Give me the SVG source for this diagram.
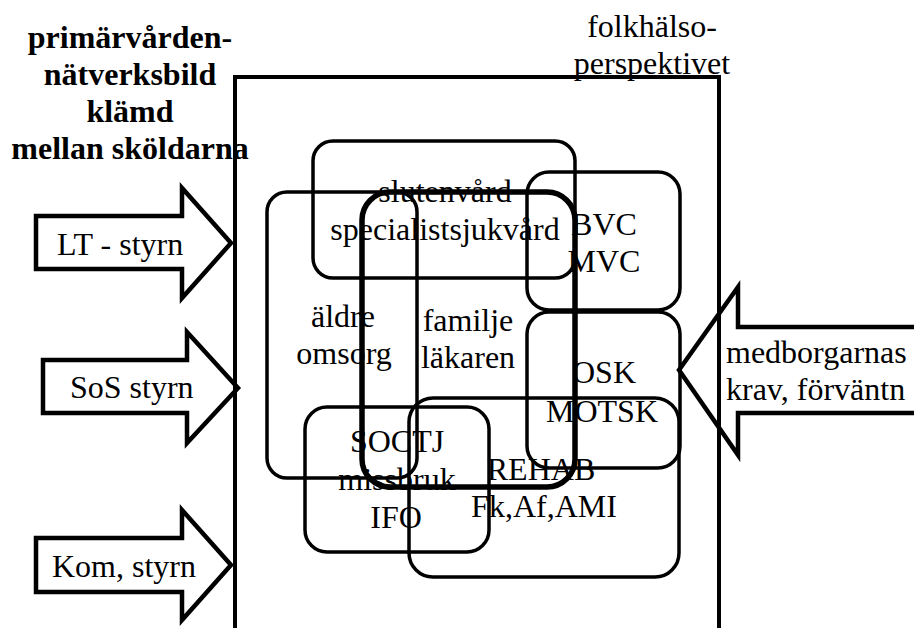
<svg xmlns="http://www.w3.org/2000/svg" width="914" height="628" viewBox="0 0 914 628">
  <style>
    text { font-family: "Liberation Serif", "Times New Roman", serif; font-size: 32px; fill: #000; }
    .title { font-weight: bold; text-anchor: middle; }
    .mid { text-anchor: middle; }
    .box { fill: none; stroke: #000; stroke-width: 3.5; }
    .thick { fill: none; stroke: #000; stroke-width: 5.5; }
    .frame { fill: none; stroke: #000; stroke-width: 4; }
    .arrow { fill: none; stroke: #000; stroke-width: 4.5; stroke-linejoin: miter; }
  </style>
  <rect width="914" height="628" fill="#fff"/>

  <!-- heading -->
  <g id="heading">
    <text class="title" x="130" y="48">primärvården-</text>
    <text class="title" x="130" y="85">nätverksbild</text>
    <text class="title" x="130" y="122">klämd</text>
    <text class="title" x="130" y="159">mellan sköldarna</text>
  </g>

  <g id="folkhalso">
    <text class="mid" x="652" y="37">folkhälso-</text>
    <text class="mid" x="652" y="74">perspektivet</text>
  </g>

  <!-- labels sit underneath the outlines -->
  <g id="labels">
    <text class="mid" x="445" y="202">slutenvård</text>
    <text class="mid" x="445" y="240">specialistsjukvård</text>
    <text class="mid" x="604" y="235">BVC</text>
    <text class="mid" x="604" y="272">MVC</text>
    <text class="mid" x="343" y="327">äldre</text>
    <text class="mid" x="344" y="364">omsorg</text>
    <text class="mid" x="468" y="331">familje</text>
    <text class="mid" x="468" y="368">läkaren</text>
    <text class="mid" x="604" y="383">OSK</text>
    <text class="mid" x="602" y="422">MOTSK</text>
    <text class="mid" x="397" y="452">SOCTJ</text>
    <text class="mid" x="397" y="490">missbruk</text>
    <text class="mid" x="396" y="528">IFO</text>
    <text class="mid" x="541" y="480">REHAB</text>
    <text class="mid" x="544" y="517">Fk,Af,AMI</text>
  </g>

  <!-- outer frame, open at the bottom -->
  <g id="frame">
    <polyline class="frame" points="235,628 235,77 719,77 719,628"/>
  </g>

  <!-- overlapping areas -->
  <g id="slutenvard"><rect class="box" x="313" y="141" width="262" height="137" rx="20"/></g>
  <g id="bvc"><rect class="box" x="527" y="172" width="153" height="138" rx="22"/></g>
  <g id="aldre"><rect class="box" x="267" y="192" width="150" height="286" rx="20"/></g>
  <g id="familjelakaren"><rect class="thick" x="362" y="192" width="213" height="295" rx="28"/></g>
  <g id="osk"><rect class="box" x="527" y="312" width="153" height="156" rx="22"/></g>
  <g id="rehab"><rect class="box" x="409" y="398" width="270" height="179" rx="24"/></g>
  <g id="soctj"><rect class="box" x="305" y="407" width="184" height="145" rx="22"/></g>

  <!-- block arrows -->
  <g id="lt-styrn">
    <polygon class="arrow" points="36,216 182,216 182,188 231,243 182,298 182,269 36,269"/>
    <text x="57" y="255">LT - styrn</text>
  </g>
  <g id="sos-styrn">
    <polygon class="arrow" points="43,360 187,360 187,332 238,388 187,443 187,413 43,413"/>
    <text x="70" y="398">SoS styrn</text>
  </g>
  <g id="kom-styrn">
    <polygon class="arrow" points="36,538 182,538 182,510 231,565 182,620 182,592 36,592"/>
    <text x="52" y="577">Kom, styrn</text>
  </g>
  <g id="medborgarnas">
    <polyline class="arrow" stroke-width="4" points="920,327 738,327 738,287 679,370 738,455 738,413 920,413"/>
    <text x="726" y="363">medborgarnas</text>
    <text x="726" y="400">krav, förväntn</text>
  </g>
</svg>
